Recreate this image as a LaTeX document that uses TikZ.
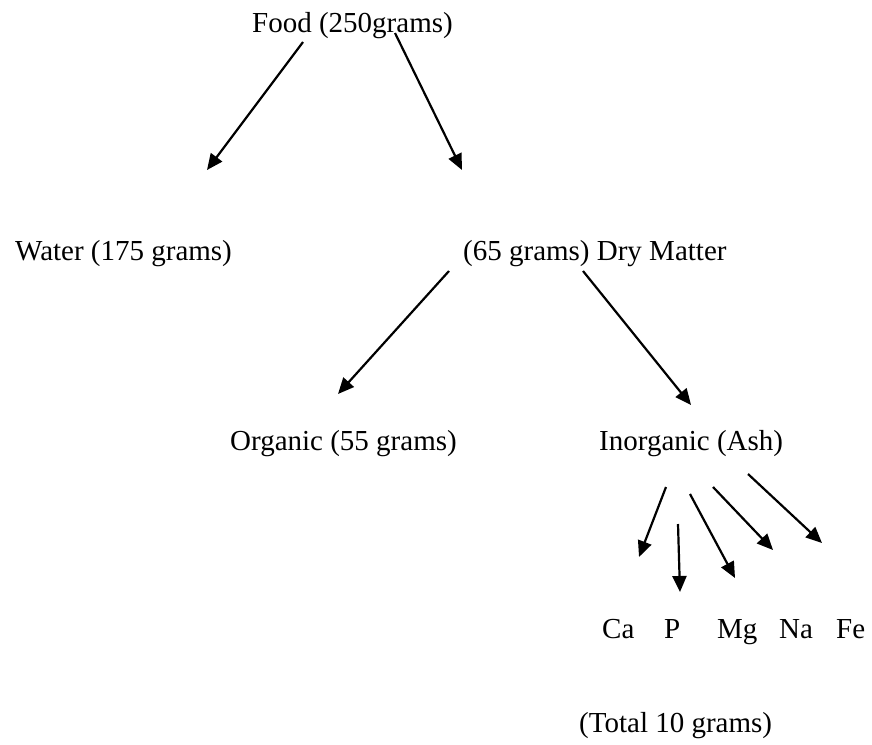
\documentclass[tikz,border=0pt]{standalone}
\usepackage{fontspec}
\setmainfont{Liberation Serif}
\usetikzlibrary{arrows.meta}
\begin{document}
\begin{tikzpicture}[x=1pt,y=-1pt,
  lbl/.style={anchor=base west,inner sep=0pt,font=\fontsize{29}{34}\selectfont},
  arr/.style={line width=2.2pt,-{Triangle[length=16pt,width=14pt]}}]
\useasboundingbox (0,0) rectangle (872,744);
\node[lbl] (food) at (252,32) {Food (250grams)};
\node[lbl] (water) at (15,260) {Water (175 grams)};
\node[lbl] (dry) at (463,260) {(65 grams) Dry Matter};
\node[lbl] (org) at (230,450) {Organic (55 grams)};
\node[lbl] (inorg) at (599,450) {Inorganic (Ash)};
\node[lbl] (ca) at (602,638) {Ca};
\node[lbl] (p) at (664,638) {P};
\node[lbl] (mg) at (717,638) {Mg};
\node[lbl] (na) at (779,638) {Na};
\node[lbl] (fe) at (836,638) {Fe};
\node[lbl] (total) at (579,732) {(Total 10 grams)};
% arrow end points
\coordinate (f1s) at (303,42);  \coordinate (f1e) at (207,170);
\coordinate (f2s) at (395,33);  \coordinate (f2e) at (462,170);
\coordinate (d1s) at (449,271); \coordinate (d1e) at (338,394);
\coordinate (d2s) at (583,271); \coordinate (d2e) at (691,405);
\coordinate (i1s) at (666,487); \coordinate (i1e) at (639,557);
\coordinate (i2s) at (678,524); \coordinate (i2e) at (680,592);
\coordinate (i3s) at (690,494); \coordinate (i3e) at (735,578);
\coordinate (i4s) at (713,487); \coordinate (i4e) at (773,550);
\coordinate (i5s) at (748,474); \coordinate (i5e) at (822,543);
\draw[arr] (f1s) -- (f1e);
\draw[arr] (f2s) -- (f2e);
\draw[arr] (d1s) -- (d1e);
\draw[arr] (d2s) -- (d2e);
\draw[arr] (i1s) -- (i1e);
\draw[arr] (i2s) -- (i2e);
\draw[arr] (i3s) -- (i3e);
\draw[arr] (i4s) -- (i4e);
\draw[arr] (i5s) -- (i5e);
\end{tikzpicture}
\end{document}
